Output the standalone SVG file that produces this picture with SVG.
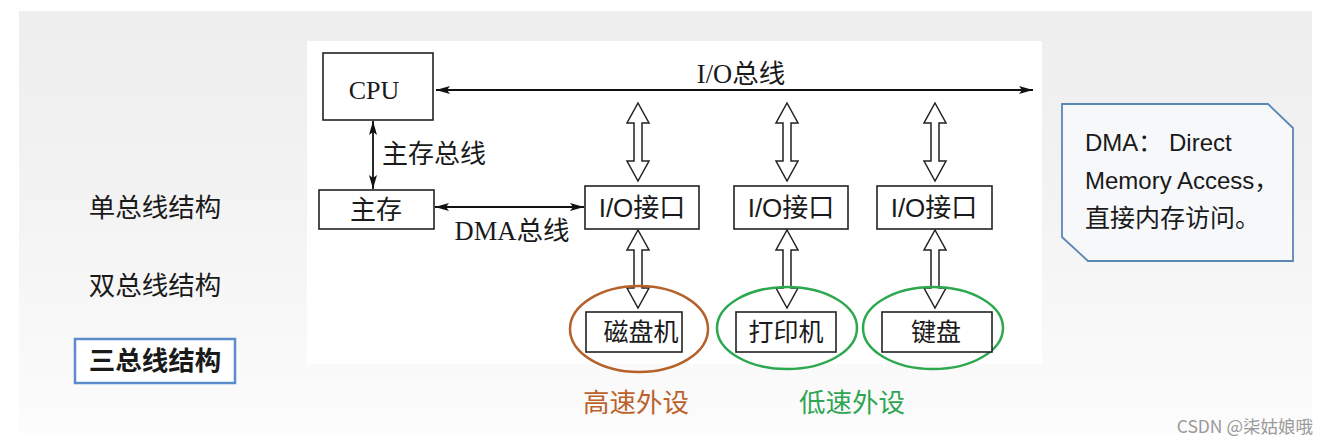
<svg xmlns="http://www.w3.org/2000/svg" width="1329" height="445" viewBox="0 0 1329 445">
<defs>
<marker id="ah" viewBox="0 0 14 8" refX="14" refY="4" markerWidth="14" markerHeight="8" markerUnits="userSpaceOnUse" orient="auto-start-reverse">
<path d="M0,0 L14,4 L0,8 L3,4 Z" fill="#111"/>
</marker>
<linearGradient id="bg" x1="0" y1="0" x2="0" y2="1">
<stop offset="0" stop-color="#eeeeee"/>
<stop offset="0.45" stop-color="#f3f3f3"/>
<stop offset="0.75" stop-color="#f8f8f8"/>
<stop offset="1" stop-color="#fcfcfc"/>
</linearGradient>
</defs>
<style>
.box{fill:#fff;stroke:#222;stroke-width:1.6}
.ser{font-family:"Liberation Serif","Noto Sans CJK SC",serif;fill:#1a1a1a}
.sans{font-family:"Liberation Sans","Noto Sans CJK SC",sans-serif;fill:#1a1a1a}
.cjk{font-family:"Noto Sans CJK SC",sans-serif;fill:#1a1a1a}
.line{stroke:#111;stroke-width:1.8;fill:none}
.hollow{fill:#fff;stroke:#222;stroke-width:1.5;stroke-linejoin:miter}
</style>
<rect x="0" y="0" width="1329" height="445" fill="#fff"/>
<rect x="19" y="11" width="1293" height="422" fill="url(#bg)"/>
<rect x="307" y="41" width="735" height="323" fill="#fff"/>

<g id="left-labels">
<text class="cjk" x="155" y="217" font-size="26.5" text-anchor="middle">单总线结构</text>
<text class="cjk" x="155" y="295" font-size="26.5" text-anchor="middle">双总线结构</text>
<g id="three-bus">
<rect x="75" y="339" width="160" height="44" fill="#fff" stroke="#5b8ccb" stroke-width="2.5"/>
<text class="cjk" x="155" y="370" font-size="26.5" text-anchor="middle" font-weight="bold">三总线结构</text>
</g>
</g>

<g id="connectors">
<line class="line" x1="436" y1="90" x2="1033" y2="90" marker-start="url(#ah)" marker-end="url(#ah)"/>
<line class="line" x1="373" y1="121" x2="373" y2="189" marker-start="url(#ah)" marker-end="url(#ah)"/>
<line class="line" x1="435" y1="207" x2="584" y2="207" marker-start="url(#ah)" marker-end="url(#ah)"/>
<path class="hollow" d="M638,103 L649,123 L642,123 L642,161 L649,161 L638,181 L627,161 L634,161 L634,123 L627,123 Z"/>
<path class="hollow" d="M787,103 L798,123 L791,123 L791,161 L798,161 L787,181 L776,161 L783,161 L783,123 L776,123 Z"/>
<path class="hollow" d="M935,103 L946,123 L939,123 L939,161 L946,161 L935,181 L924,161 L931,161 L931,123 L924,123 Z"/>
<path class="hollow" d="M638,230 L649,250 L642,250 L642,288 L649,288 L638,308 L627,288 L634,288 L634,250 L627,250 Z"/>
<path class="hollow" d="M787,230 L798,250 L791,250 L791,288 L798,288 L787,308 L776,288 L783,288 L783,250 L776,250 Z"/>
<path class="hollow" d="M935,230 L946,250 L939,250 L939,288 L946,288 L935,308 L924,288 L931,288 L931,250 L924,250 Z"/>
<text class="ser" x="741" y="83" font-size="26.5" text-anchor="middle">I/O总线</text>
<text class="ser" x="382" y="163" font-size="26" >主存总线</text>
<text class="ser" x="512" y="240" font-size="26.5" text-anchor="middle">DMA总线</text>
</g>

<g id="cpu">
<rect class="box" x="323" y="53" width="110" height="67"/>
<text class="ser" x="374" y="99" font-size="26" text-anchor="middle">CPU</text>
</g>
<g id="main-memory">
<rect class="box" x="319" y="190" width="115" height="39"/>
<text class="ser" x="376" y="219" font-size="26" text-anchor="middle">主存</text>
</g>
<g id="io1">
<rect class="box" x="585" y="186" width="114" height="43"/>
<text class="sans" x="642" y="217" font-size="26" text-anchor="middle">I/O接口</text>
</g>
<g id="io2">
<rect class="box" x="734" y="186" width="114" height="43"/>
<text class="sans" x="791" y="217" font-size="26" text-anchor="middle">I/O接口</text>
</g>
<g id="io3">
<rect class="box" x="877" y="186" width="115" height="43"/>
<text class="sans" x="934" y="217" font-size="26" text-anchor="middle">I/O接口</text>
</g>
<g id="disk">
<ellipse cx="639" cy="329" rx="69" ry="43" fill="none" stroke="#b5612a" stroke-width="2.5"/>
<rect class="box" x="586" y="312" width="96" height="40"/>
<text class="ser" x="641" y="341" font-size="25" text-anchor="middle">磁盘机</text>
</g>
<g id="printer">
<ellipse cx="787" cy="328" rx="70" ry="41" fill="none" stroke="#2ea84f" stroke-width="2.5"/>
<rect class="box" x="736" y="312" width="100" height="40"/>
<text class="ser" x="786" y="341" font-size="25" text-anchor="middle">打印机</text>
</g>
<g id="keyboard">
<ellipse cx="933" cy="328" rx="70" ry="41" fill="none" stroke="#2ea84f" stroke-width="2.5"/>
<rect class="box" x="882" y="312" width="110" height="40"/>
<text class="ser" x="936" y="341" font-size="25" text-anchor="middle">键盘</text>
</g>

<g id="speed-labels">
<text class="cjk" x="636" y="412" font-size="26.5" text-anchor="middle" style="fill:#bb622c">高速外设</text>
<text class="cjk" x="852" y="412" font-size="26.5" text-anchor="middle" style="fill:#30a553">低速外设</text>
</g>

<g id="dma-note">
<path d="M1062,104 L1268,104 L1293,128 L1293,261 L1088,261 L1062,237 Z" fill="#f7f8fa" stroke="#5b87b5" stroke-width="1.8"/>
<text class="sans" x="1085" y="151" font-size="24">DMA：  Direct</text>
<text class="sans" x="1085" y="189" font-size="24">Memory Access，</text>
<text class="cjk" x="1085" y="227" font-size="25">直接内存访问。</text>
</g>

<text class="cjk" x="1313" y="433" font-size="17.5" text-anchor="end" style="fill:#9a9a9a">CSDN @柒姑娘哦</text>
</svg>
